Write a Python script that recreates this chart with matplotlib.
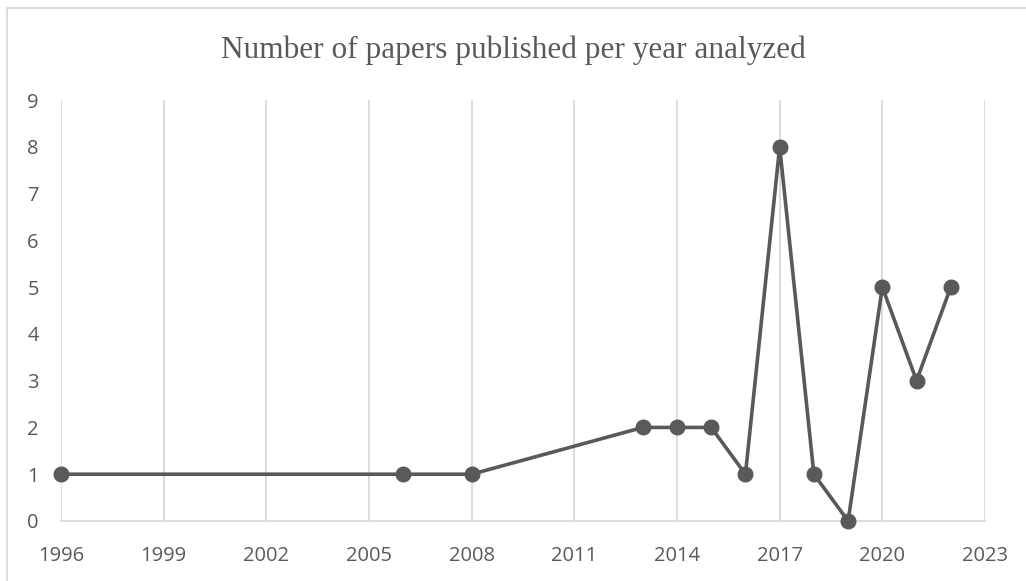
import matplotlib
matplotlib.use("Agg")
import matplotlib.pyplot as plt
from matplotlib.patches import Rectangle

years = [1996, 2006, 2008, 2013, 2014, 2015, 2016, 2017, 2018, 2019, 2020, 2021, 2022]
papers = [1, 1, 1, 2, 2, 2, 1, 8, 1, 0, 5, 3, 5]
x_ticks = [1996, 1999, 2002, 2005, 2008, 2011, 2014, 2017, 2020, 2023]
y_ticks = list(range(0, 10))
title = "Number of papers published per year analyzed"

W, H = 1026, 581
fig = plt.figure(figsize=(W / 100, H / 100), dpi=100)
ax = fig.add_axes([61 / W, 1 - 521 / H, (985 - 61) / W, (521 - 100) / H])

gray = "#595959"
grid = "#d9d9d9"

ax.plot(years, papers, color=gray, linewidth=2.6, marker="o", markersize=10.5,
        markerfacecolor=gray, markeredgecolor=gray, zorder=3, clip_on=False)

ax.set_xlim(1996, 2023)
ax.set_ylim(0, 9)
ax.set_xticks(x_ticks)
ax.set_yticks(y_ticks)
ax.xaxis.grid(True, color=grid, linewidth=1.3)
ax.yaxis.grid(False)
for s in ["top", "right", "left"]:
    ax.spines[s].set_visible(False)
ax.spines["bottom"].set_color(grid)
ax.spines["bottom"].set_linewidth(1.3)
ax.tick_params(axis="both", length=0, colors=gray, labelsize=14.5)
ax.tick_params(axis="x", pad=18)
ax.tick_params(axis="y", pad=16)
for lab in ax.get_xticklabels() + ax.get_yticklabels():
    lab.set_fontfamily("Open Sans")

fig.text(0.5, 1 - 50 / H, title, ha="center", va="center", fontsize=22.5,
         color=gray, family="Liberation Serif")

fig.patches.append(Rectangle((7 / W, -0.05), 1.1, 1.05 - 8 / H,
                             transform=fig.transFigure, fill=False,
                             edgecolor=grid, linewidth=1.3))

fig.savefig("out.png", dpi=100, facecolor="white")
